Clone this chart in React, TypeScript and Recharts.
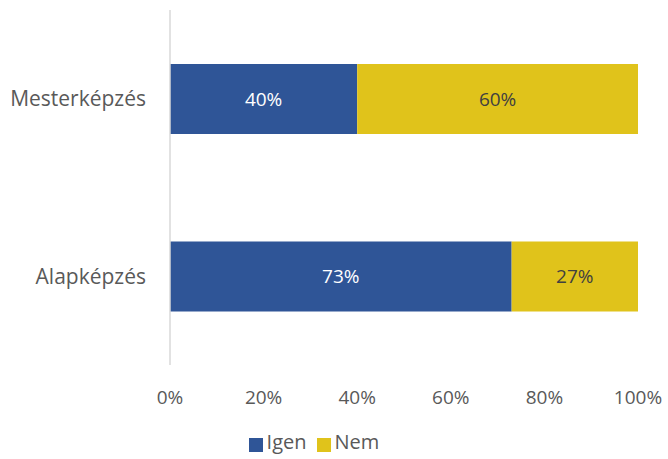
import { BarChart, Bar, XAxis, YAxis, Legend, LabelList } from "recharts"

const categories = ["Mesterképzés", "Alapképzés"]
const igen = [40, 73]
const nem = [60, 27]
const xTicks = [0, 20, 40, 60, 80, 100]

const data = categories.map((name, i) => ({ name, igen: igen[i], nem: nem[i] }))

const font = "'Open Sans', sans-serif"

export default function App() {
  return (
    <div style={{ position: "absolute", left: 0, top: 0, fontFamily: font }}>
      <BarChart
        width={668}
        height={459}
        data={data}
        layout="vertical"
        barSize={70}
        margin={{ top: 10, right: 30, bottom: 0, left: 0 }}
      >
        <XAxis
          type="number"
          domain={[0, 100]}
          ticks={xTicks}
          tickFormatter={(v) => `${v}%`}
          axisLine={false}
          tickLine={false}
          tickSize={0}
          tickMargin={26}
          height={68}
          interval={0}
          tick={{ fill: "#595959", fontSize: 19, fontFamily: font }}
        />
        <YAxis
          type="category"
          dataKey="name"
          width={170}
          axisLine={{ stroke: "#d9d9d9", strokeWidth: 1.5 }}
          tickLine={false}
          tickSize={0}
          tickMargin={24}
          tick={{ fill: "#595959", fontSize: 21, fontFamily: font }}
        />
        <Legend
          verticalAlign="bottom"
          iconType="square"
          iconSize={14}
          height={26}
          wrapperStyle={{ lineHeight: "22px", bottom: 2 }}
          formatter={(value) => <span style={{ color: "#595959", fontSize: 20 }}>{value}</span>}
        />
        <Bar dataKey="igen" name="Igen" stackId="a" fill="#2F5597" isAnimationActive={false}>
          <LabelList dataKey="igen" position="center" formatter={(v) => `${v}%`} fill="#ffffff" fontSize={19} fontFamily={font} />
        </Bar>
        <Bar dataKey="nem" name="Nem" stackId="a" fill="#E0C31B" isAnimationActive={false}>
          <LabelList dataKey="nem" position="center" formatter={(v) => `${v}%`} fill="#404040" fontSize={19} fontFamily={font} />
        </Bar>
      </BarChart>
    </div>
  )
}
